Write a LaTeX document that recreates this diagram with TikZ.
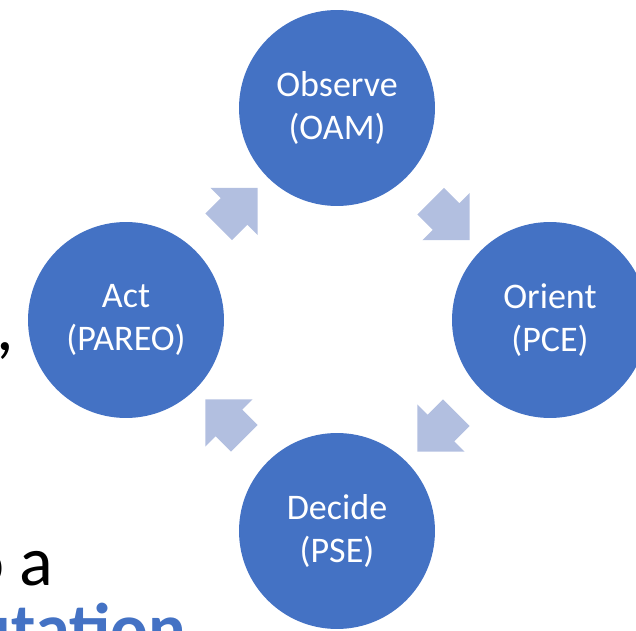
\documentclass[tikz,border=0pt]{standalone}
\usepackage{fontspec}
\setmainfont{Carlito}
\usetikzlibrary{shapes.arrows,calc}
\definecolor{stepblue}{RGB}{68,114,196}
\definecolor{flowblue}{RGB}{178,191,224}
\begin{document}
\begin{tikzpicture}[x=0.02cm,y=-0.02cm,
  phase/.style={circle,fill=stepblue,draw=none,minimum size=3.92cm,inner sep=0pt,
    text=white,align=center,font=\fontsize{20.5}{24.5}\selectfont},
  flow/.style={single arrow,fill=flowblue,draw=none,inner xsep=0pt,inner ysep=0.37cm,
    minimum height=1.1cm,single arrow head extend=0.29cm},
  slide/.style={inner sep=0pt,font=\fontsize{40}{48}\selectfont}]
\useasboundingbox (0,0) rectangle (636,631);
\clip (0,0) rectangle (636,631);
\node [slide,anchor=base east] (txtA) at (14,351) {s,};
\node [slide,anchor=base east] (txtB) at (54,585) {o a};
\node [slide,anchor=base east,text=stepblue,font=\fontsize{40}{48}\selectfont\bfseries] (txtC) at (186,652) {utation};
\node [phase] (observe) at (337,108) {Observe\\(OAM)};
\node [phase] (orient) at (550,320) {Orient\\(PCE)};
\node [phase] (decide) at (337,531) {Decide\\(PSE)};
\node [phase] (act) at (126,320) {Act\\(PAREO)};
\node [flow,rotate=45] (a1) at ($(act)!0.5!(observe)$) {};
\node [flow,rotate=-45] (a2) at ($(observe)!0.5!(orient)$) {};
\node [flow,rotate=-135] (a3) at ($(orient)!0.5!(decide)$) {};
\node [flow,rotate=135] (a4) at ($(decide)!0.5!(act)$) {};
\end{tikzpicture}
\end{document}
